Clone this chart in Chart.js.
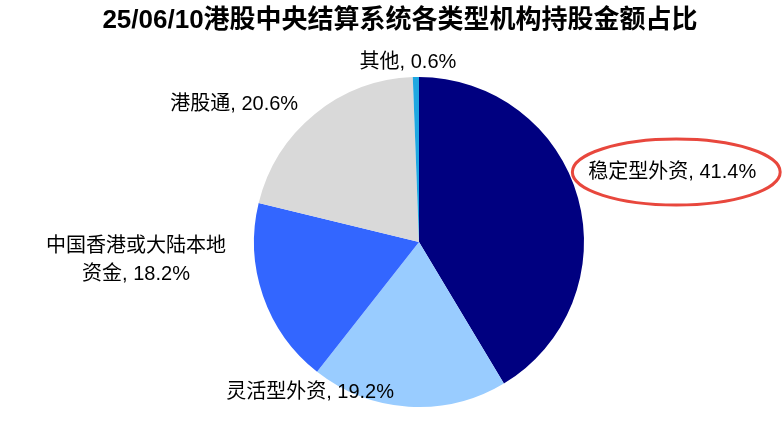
<!DOCTYPE html>
<html>
<head>
<meta charset="utf-8">
<script src="https://cdn.jsdelivr.net/npm/chart.js@4/dist/chart.umd.min.js"></script>
<style>
  html, body { margin: 0; padding: 0; background: #ffffff; }
  #wrap { width: 783px; height: 422px; position: relative; }
</style>
</head>
<body>
<div id="wrap"><canvas id="pieChart"></canvas></div>
<script>
// Dados do gráfico
const titleText = '25/06/10港股中央结算系统各类型机构持股金额占比';
const categories = ['稳定型外资', '灵活型外资', '中国香港或大陆本地资金', '港股通', '其他'];
const labelLines = [['稳定型外资, 41.4%'], ['灵活型外资, 19.2%'], ['中国香港或大陆本地', '资金, 18.2%'], ['港股通, 20.6%'], ['其他, 0.6%']];
const shares = [41.4, 19.2, 18.2, 20.6, 0.6];
const sliceColors = ['#000080', '#99ccff', '#3366ff', '#d9d9d9', '#1ea7e1'];

// Posição dos rótulos em relação ao centro da pizza (em múltiplos do raio)
const labelAnchors = [[1.535, -0.424], [-0.66, 0.909], [-1.715, 0.109], [-1.12, -0.836], [-0.067, -1.09]];

// Plugin para título, rótulos e elipse vermelha
const labelPlugin = {
    id: 'pieLabels',
    afterDraw(chart) {
        const ctx = chart.ctx;
        const arc = chart.getDatasetMeta(0).data[0];
        const cx = arc.x, cy = arc.y, r = arc.outerRadius;

        ctx.save();
        // Título
        ctx.fillStyle = '#000000';
        ctx.font = 'bold 26px "Liberation Sans", "Noto Sans CJK SC", sans-serif';
        ctx.textAlign = 'center';
        ctx.textBaseline = 'middle';
        ctx.fillText(titleText, 400, 21);

        // Rótulos
        ctx.font = '20px "Liberation Sans", "Noto Sans CJK SC", sans-serif';
        labelLines.forEach((lines, i) => {
            const x = cx + labelAnchors[i][0] * r;
            const y = cy + labelAnchors[i][1] * r;
            const lh = 28;
            lines.forEach((line, j) => {
                ctx.fillText(line, x, y + (j - (lines.length - 1) / 2) * lh);
            });
            if (i === 0) {
                // Elipse de destaque
                const w = ctx.measureText(lines[0]).width;
                ctx.beginPath();
                ctx.ellipse(x + 4, y, w / 2 + 20, 33, 0, 0, Math.PI * 2);
                ctx.strokeStyle = '#e8473d';
                ctx.lineWidth = 3;
                ctx.stroke();
            }
        });
        ctx.restore();
    }
};

const ctx = document.getElementById('pieChart');
new Chart(ctx, {
    type: 'pie',
    data: {
        labels: categories,
        datasets: [{
            data: shares,
            backgroundColor: sliceColors,
            borderWidth: 0
        }]
    },
    options: {
        responsive: true,
        maintainAspectRatio: false,
        animation: false,
        layout: {
            padding: { left: 254, right: 199, top: 77, bottom: 15 }
        },
        plugins: {
            legend: { display: false },
            tooltip: { enabled: false },
            title: { display: false }
        }
    },
    plugins: [labelPlugin]
});
</script>
</body>
</html>
